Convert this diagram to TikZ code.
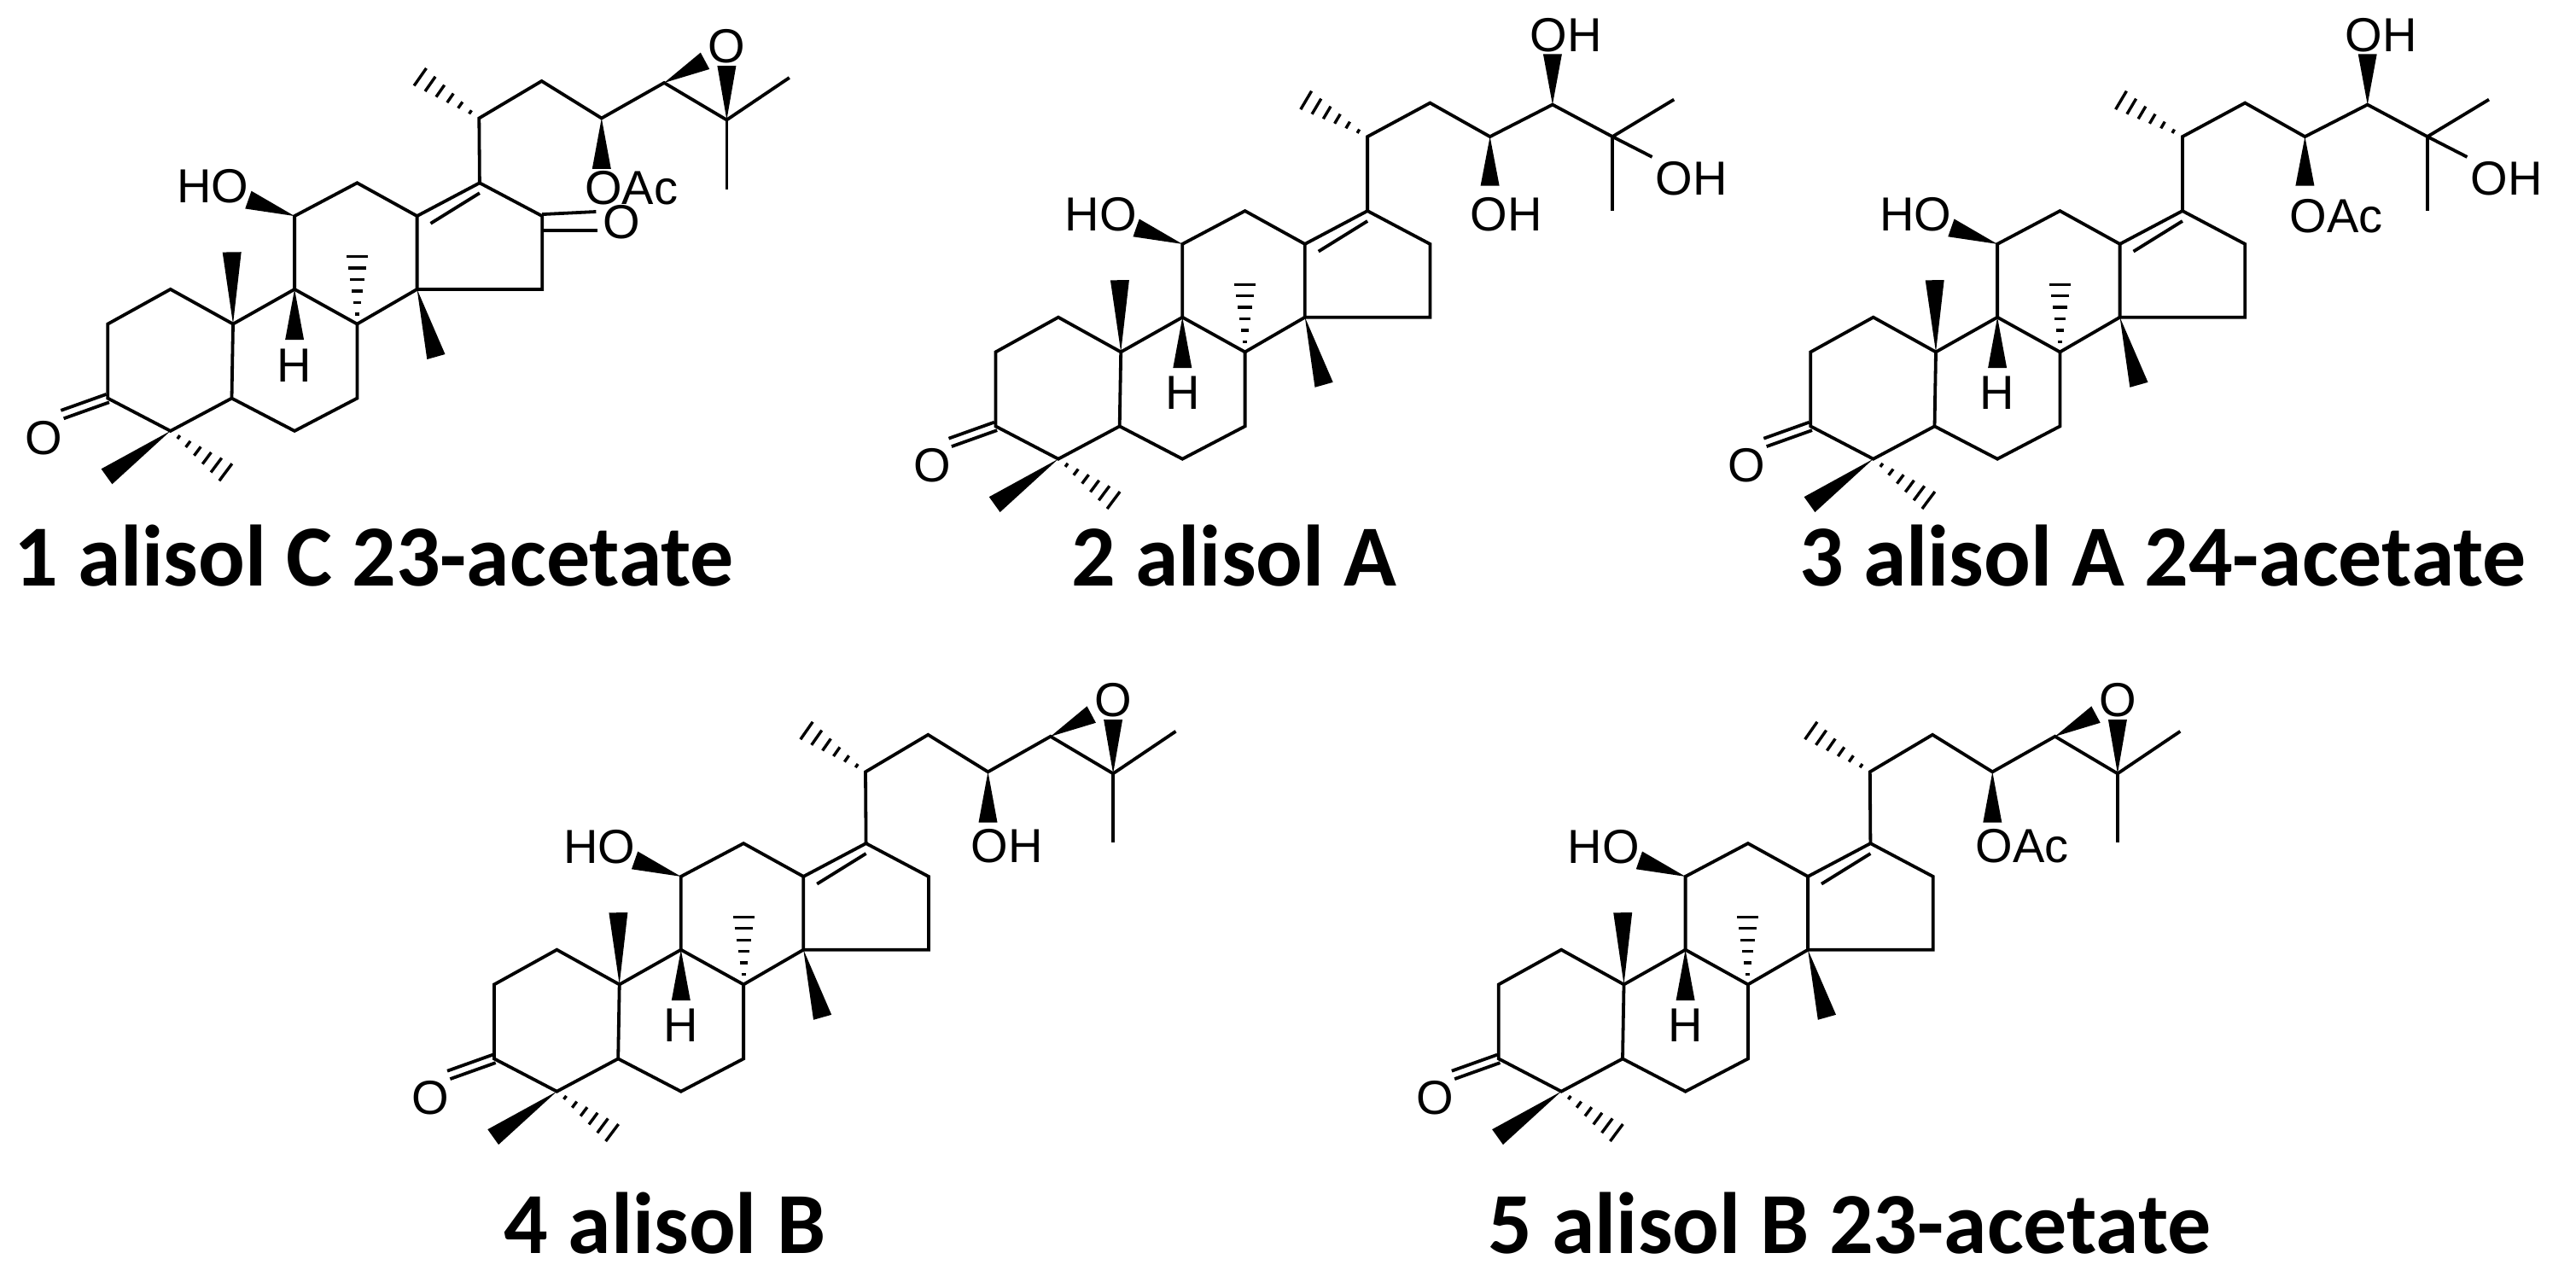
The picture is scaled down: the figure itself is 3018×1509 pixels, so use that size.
\documentclass[tikz,border=0pt]{standalone}
\usepackage{fontspec}
\setmainfont{Liberation Sans}
\newfontfamily\tfont{Carlito}
\usetikzlibrary{calc}
\tikzset{bond/.style={line width=3.8pt},
 lab/.style={inner sep=0pt,font=\fontsize{56}{56}\selectfont},
 ttl/.style={inner sep=0pt,anchor=base,font=\tfont\bfseries\fontsize{102}{102}\selectfont}}
\newcommand\wdg[2]{\fill (#1) -- ($(#2)!11pt!90:(#1)$) -- ($(#2)!11pt!-90:(#1)$) -- cycle;}
\newcommand\hsh[2]{\foreach \t/\w in {0.14/2.5,0.3/4.5,0.46/6.5,0.62/8.5,0.78/10.5,0.94/12.5}{\draw[line width=3.4pt] ($(#1)!\t!(#2)!\w pt!90:(#2)$) -- ($(#1)!\t!(#2)!\w pt!-90:(#2)$);}}
\newcommand\skel{%
 \coordinate (C10) at (0,0);
 \coordinate (C1) at (-73.3,-40.7);
 \coordinate (C2) at (-146.7,0);
 \coordinate (C3) at (-146.7,87);
 \coordinate (C4) at (-73.3,125.3);
 \coordinate (C5) at (-1.5,87);
 \coordinate (C6) at (72.1,125.3);
 \coordinate (C7) at (145.4,87);
 \coordinate (C8) at (145.4,0);
 \coordinate (C9) at (72.1,-40.7);
 \coordinate (C11) at (72.1,-126.5);
 \coordinate (C12) at (145.4,-165.3);
 \coordinate (C13) at (215.6,-126.5);
 \coordinate (C14) at (215.6,-40.7);
 \coordinate (C15) at (362.2,-40.7);
 \coordinate (C16) at (362.2,-126.5);
 \coordinate (C17) at (288.9,-165.3);
 \coordinate (O11) at (17.9,-145.5);
 \coordinate (M10) at (-1.3,-84.2);
 \coordinate (H9) at (72.1,18.6);
 \coordinate (M8) at (145.4,-84.2);
 \coordinate (M14) at (237.9,38.4);
 \coordinate (M4a) at (-148,178.7);
 \coordinate (M4b) at (-4.5,176.7);
 \coordinate (E3) at (-200,106);
 \draw[bond] (C10)--(C1)--(C2)--(C3)--(C4)--(C5)--(C10)--(C9)--(C8)--(C7)--(C6)--(C5);
 \draw[bond] (C9)--(C11)--(C12)--(C13)--(C14)--(C8);
 \draw[bond] (C13)--(C17)--(C16)--(C15)--(C14);
 \draw[bond] (231.5,-117.8)--(288.9,-153.4);
 \draw[bond] ($(C3)!5pt!90:(E3)$) -- ($(E3)!5pt!-90:(C3)$);
 \draw[bond] ($(C3)!5pt!-90:(E3)$) -- ($(E3)!5pt!90:(C3)$);
 \node[lab] (o3) at (-221.3,133.3) {O};
 \wdg{C11}{O11} \node[lab] (ho11) at (-23.6,-161.3) {HO};
 \wdg{C10}{M10}
 \wdg{C9}{H9} \node[lab] (h9) at (72.1,48.2) {H};
 \hsh{C8}{M8}
 \wdg{C14}{M14}
 \wdg{C4}{M4a}
 \hsh{C4}{M4b}
}
% triol chain (2,3)
\newcommand\chainA[2]{%
 \coordinate (C20) at (288.9,-252.3);
 \coordinate (C21) at (212.4,-297.7);
 \coordinate (C22) at (362.2,-291.8);
 \coordinate (C23) at (432.4,-252.3);
 \coordinate (C24) at (505.7,-289.8);
 \coordinate (C25) at (575.9,-252.3);
 \coordinate (C26) at (648,-295.8);
 \coordinate (C27) at (575.9,-165.3);
 \coordinate (O25) at (622.4,-228.5);
 \coordinate (O24) at (505.7,-349.1);
 \coordinate (O23) at (432.4,-194.9);
 \draw[bond] (C17)--(C20)--(C22)--(C23)--(C24)--(C25)--(C26);
 \draw[bond] (C25)--(C27);
 \draw[bond] (C25)--(O25);
 \hsh{C20}{C21}
 \wdg{C24}{O24}
 \wdg{C23}{O23}
 \node[lab] (oh25) at (668.4,-202.8) {OH};
 \node[lab] (oh24) at (521.7,-370.9) {OH};
 \node[lab] (o23) at #1 {#2};
}
% epoxide chain (1,4,5)
\newcommand\chainB[2]{%
 \coordinate (C20) at (288.3,-249.1);
 \coordinate (C21) at (214.9,-300.5);
 \coordinate (C22) at (361.6,-292.6);
 \coordinate (C23) at (431.8,-249.1);
 \coordinate (O23) at (431.8,-189.8);
 \coordinate (C24) at (505.1,-290.6);
 \coordinate (C25) at (578.4,-247.1);
 \coordinate (C26) at (651.8,-296.6);
 \coordinate (C27) at (578.4,-166.1);
 \coordinate (W24) at (553,-316.3);
 \coordinate (W25) at (578.4,-310.4);
 \draw[bond] (C17)--(C20)--(C22)--(C23)--(C24)--(C25)--(C26);
 \draw[bond] (C25)--(C27);
 \hsh{C20}{C21}
 \wdg{C23}{O23}
 \wdg{C24}{W24}
 \wdg{C25}{W25}
 \node[lab] (oep) at (578.4,-333) {O};
 \node[lab] (o23) at #1 {#2};
}
\begin{document}
\begin{tikzpicture}[x=1pt,y=-1pt]
\useasboundingbox (0,0) rectangle (3018,1509);
\fill[white] (0,0) rectangle (3018,1509);
% 1
\begin{scope}[shift={(273,379.6)}]
 \skel
 \begin{scope}[yshift=-8pt]\chainB{(466.8,-167)}{OAc}\end{scope}
 \draw[bond] (362.2,-128.5)--(425.4,-131.6);
 \draw[bond] (362.2,-110)--(427.3,-110);
 \node[lab] (o16) at (455,-119) {O};
\end{scope}
% 2
\begin{scope}[shift={(1313.2,412.4)}]
 \skel
 \chainA{(451.5,-161.3)}{OH}
\end{scope}
% 3
\begin{scope}[shift={(2268,412.4)}]
 \skel
 \chainA{(469.4,-159.4)}{OAc}
\end{scope}
% 4
\begin{scope}[shift={(725.7,1153.4)}]
 \skel
 \chainB{(454,-162.1)}{OH}
\end{scope}
% 5
\begin{scope}[shift={(1902.5,1153.4)}]
 \skel
 \chainB{(466.8,-162.1)}{OAc}
\end{scope}
\node[ttl] (t1) at (438,686) {1 alisol C 23-acetate};
\node[ttl] (t2) at (1446,686) {2 alisol A};
\node[ttl] (t3) at (2534,686) {3 alisol A 24-acetate};
\node[ttl] (t4) at (779,1468) {4 alisol B};
\node[ttl] (t5) at (2167,1468) {5 alisol B 23-acetate};
\end{tikzpicture}
\end{document}
